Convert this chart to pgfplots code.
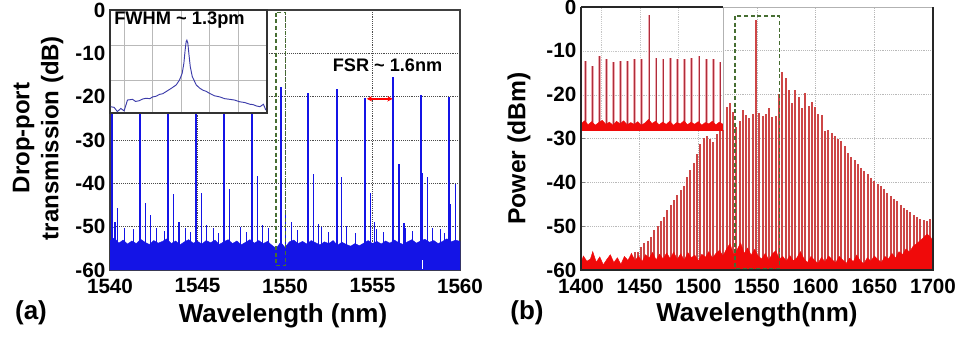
\documentclass[border=0pt]{standalone}
\usepackage{pgfplots}
\pgfplotsset{compat=1.18}
\usepackage{pgfplotstable}
\usepackage{fontspec}
\setmainfont{Liberation Sans}
\usetikzlibrary{arrows.meta}

\definecolor{bl}{RGB}{20,20,230}
\definecolor{insbl}{RGB}{60,60,170}
\definecolor{rd}{RGB}{240,10,10}
\definecolor{comb}{RGB}{205,70,70}
\definecolor{pinkc}{RGB}{238,170,175}
\definecolor{corec}{RGB}{175,45,60}
\definecolor{gbox}{RGB}{70,110,50}

% ---------- left panel data ----------
\pgfplotstableread{
x y
1540.12 -18
1541.70 -18
1543.33 -18
1544.92 -18
1546.52 -18
1548.13 -18
1549.75 -17.7
1551.33 -19.1
1552.95 -18.3
1554.57 -20.2
1556.15 -15.5
1557.77 -19.6
1559.39 -20.0
}\LPeaks

\pgfplotstableread{
x y
1540.29 -49.0
1540.42 -45.6
1542.04 -44.5
1542.32 -47.2
1543.62 -42.5
1543.94 -49.0
1545.24 -42.2
1545.52 -49.5
1546.82 -41.4
1548.42 -38.2
1548.70 -49.5
1550.04 -47.0
1550.38 -49.0
1551.62 -37.8
1551.90 -49.4
1553.24 -38.5
1553.52 -49.8
1554.90 -42.2
1555.12 -49.0
1556.51 -35.5
1556.80 -49.2
1557.87 -37.7
1558.15 -38.5
1559.47 -44.7
1559.73 -40.2
}\LSec

\pgfplotstableread{
x y
1540.80 -50.2
1541.33 -50.5
1542.67 -50.3
1543.10 -51.0
1544.29 -50.2
1544.60 -51.2
1545.90 -50.4
1546.20 -51.5
1547.43 -50.1
1547.80 -51.3
1549.05 -50.3
1550.70 -50.8
1552.10 -50.1
1552.50 -51.2
1553.52 -50.4
1554.00 -51.5
1555.24 -50.5
1555.60 -51.3
1556.86 -50.2
1557.30 -51.0
1558.43 -50.4
1558.86 -50.6
1559.10 -51.4
}\LSmall

\pgfplotstableread{
x y
1540.00 -60
1540.00 -53.2
1540.25 -52.6
1540.50 -53.8
1540.75 -53.1
1541.00 -54.0
1541.25 -53.3
1541.50 -53.9
1541.75 -52.9
1542.00 -53.6
1542.25 -54.1
1542.50 -53.2
1542.75 -53.8
1543.00 -53.4
1543.25 -52.8
1543.50 -53.9
1543.75 -53.3
1544.00 -54.2
1544.25 -53.5
1544.50 -53.0
1544.75 -53.8
1545.00 -53.4
1545.25 -54.0
1545.50 -53.2
1545.75 -53.7
1546.00 -53.1
1546.25 -54.1
1546.50 -53.5
1546.75 -53.0
1547.00 -53.9
1547.25 -53.3
1547.50 -54.2
1547.75 -53.6
1548.00 -53.0
1548.25 -53.8
1548.50 -53.2
1548.75 -53.9
1549.00 -53.4
1549.25 -54.3
1549.50 -55.0
1549.75 -53.6
1550.00 -54.8
1550.25 -53.5
1550.50 -53.1
1550.75 -53.9
1551.00 -53.4
1551.25 -54.0
1551.50 -53.2
1551.75 -53.7
1552.00 -54.2
1552.25 -53.5
1552.50 -53.9
1552.75 -53.2
1553.00 -54.3
1553.25 -53.6
1553.50 -54.1
1553.75 -54.5
1554.00 -53.9
1554.25 -54.4
1554.50 -53.8
1554.75 -53.2
1555.00 -53.9
1555.25 -53.4
1555.50 -54.0
1555.75 -53.3
1556.00 -53.8
1556.25 -53.1
1556.50 -53.7
1556.75 -54.1
1557.00 -53.5
1557.25 -53.0
1557.50 -53.8
1557.75 -53.3
1558.00 -52.9
1558.25 -53.6
1558.50 -53.2
1558.75 -53.9
1559.00 -53.4
1559.25 -52.8
1559.50 -53.5
1559.75 -53.1
1560.00 -53.4
1560.00 -60
}\LFloor

\pgfplotstableread{
x y
-4.95 -27.6
-4.71 -27.8
-4.48 -29.0
-4.24 -28.1
-4.01 -28.8
-3.77 -25.7
-3.42 -25.5
-3.20 -26.1
-2.95 -25.9
-2.70 -25.4
-2.47 -25.2
-2.20 -25.3
-2.00 -24.8
-1.75 -24.6
-1.53 -24.1
-1.30 -23.9
-1.06 -23.3
-0.71 -22.4
-0.35 -21.4
-0.12 -20.0
0.07 -18.1
0.19 -15.2
0.28 -11.4
0.35 -9.0
0.40 -8.6
0.47 -9.5
0.54 -12.4
0.64 -16.2
0.78 -19.0
1.06 -21.4
1.30 -22.3
1.53 -22.9
1.75 -23.2
2.00 -23.8
2.35 -24.5
2.71 -24.8
3.05 -25.3
3.41 -25.5
3.75 -25.7
4.12 -26.2
4.45 -26.4
4.83 -26.9
5.05 -27.0
5.30 -27.4
5.54 -27.6
5.78 -26.9
5.95 -28.6
}\LInset

% ---------- right panel data ----------
\pgfplotstableread{
x y
1442.8 -56.8
1445.6 -55.8
1448.4 -55.9
1451.2 -54.8
1454.0 -53.9
1456.8 -53.4
1459.6 -52.5
1462.4 -50.8
1465.2 -49.9
1468.0 -48.9
1470.8 -47.8
1473.6 -46.3
1476.4 -45.2
1479.2 -44.1
1482.0 -43.0
1484.8 -41.7
1487.6 -40.8
1490.4 -38.7
1493.2 -37.2
1496.0 -35.6
1498.8 -33.5
1501.6 -31.3
1504.4 -29.8
1507.2 -29.4
1510.0 -30.1
1512.8 -30.9
1515.6 -29.0
1518.4 -27.2
1521.2 -25.6
1524.0 -22.7
1526.8 -21.8
1529.6 -23.9
1532.4 -27.3
1535.2 -26.0
1538.0 -23.5
1540.8 -24.6
1543.6 -25.4
1546.4 -24.3
1549.2 -3.0
1552.0 -24.1
1554.8 -24.9
1557.6 -24.5
1560.4 -23.1
1563.2 -25.1
1566.0 -24.8
1568.8 -19.8
1571.6 -14.8
1574.4 -16.2
1577.2 -19.0
1580.0 -22.0
1582.8 -18.9
1585.6 -20.5
1588.4 -23.1
1591.2 -19.7
1594.0 -22.5
1596.8 -21.6
1599.6 -22.7
1602.4 -24.3
1605.2 -24.6
1608.0 -28.4
1610.8 -28.1
1613.6 -28.8
1616.4 -29.5
1619.2 -30.0
1622.0 -30.6
1624.8 -31.6
1627.6 -33.2
1630.4 -34.2
1633.2 -35.0
1636.0 -35.9
1638.8 -36.7
1641.6 -37.3
1644.4 -38.2
1647.2 -39.0
1650.0 -39.8
1652.8 -40.4
1655.6 -40.9
1658.4 -41.6
1661.2 -42.5
1664.0 -43.1
1666.8 -43.7
1669.6 -44.3
1672.4 -45.2
1675.2 -45.9
1678.0 -46.3
1680.8 -46.8
1683.6 -47.4
1686.4 -47.9
1689.2 -48.3
1692.0 -48.6
1694.8 -48.9
1697.6 -48.4
}\RComb

\pgfplotstableread{
x y
1400 -60
1400 -58.5
1402 -56.8
1405 -58.0
1408 -57.5
1410 -55.8
1413 -58.2
1416 -57.0
1419 -58.8
1422 -57.6
1425 -56.5
1428 -58.3
1431 -57.2
1434 -58.7
1437 -56.9
1440 -57.8
1443 -56.2
1446 -57.9
1449 -56.8
1452 -58.1
1455 -56.5
1458 -57.3
1461 -56.0
1464 -57.7
1467 -56.4
1470 -57.5
1473 -56.1
1476 -57.4
1479 -55.9
1482 -57.6
1485 -56.3
1488 -57.8
1491 -56.0
1494 -57.2
1497 -56.6
1500 -57.9
1503 -56.4
1506 -57.1
1509 -55.8
1512 -57.3
1515 -56.2
1518 -55.5
1521 -56.8
1524 -55.2
1527 -54.0
1530 -56.5
1533 -55.4
1536 -53.8
1539 -56.2
1542 -55.0
1545 -56.6
1548 -55.3
1551 -56.8
1554 -57.5
1557 -56.2
1560 -57.7
1563 -56.4
1566 -55.6
1569 -57.5
1572 -56.9
1575 -58.0
1578 -56.7
1581 -57.9
1584 -57.2
1587 -55.8
1590 -57.4
1593 -58.3
1596 -56.9
1599 -57.8
1602 -58.5
1605 -57.1
1608 -58.2
1611 -56.8
1614 -57.6
1617 -58.4
1620 -56.9
1623 -57.7
1626 -58.5
1629 -57.3
1632 -58.1
1635 -56.6
1638 -57.9
1641 -58.6
1644 -57.2
1647 -58.0
1650 -56.8
1653 -57.6
1656 -58.3
1659 -56.9
1662 -57.5
1665 -56.2
1668 -57.3
1671 -55.8
1674 -56.5
1677 -55.2
1680 -55.9
1683 -54.6
1686 -54.0
1689 -53.3
1692 -52.6
1695 -51.8
1698 -52.5
1700 -53.5
1700 -60
}\RFloor

\pgfplotstableread{
x y
1540.66 -12.3
1541.65 -13.5
1542.58 -11.2
1543.62 -11.9
1544.61 -12.5
1545.59 -12.2
1546.58 -12.2
1547.56 -11.8
1548.55 -11.9
1549.58 -1.8
1550.56 -11.6
1551.55 -11.8
1552.54 -11.5
1553.56 -11.9
1554.55 -11.9
1555.59 -11.6
1556.62 -11.1
1557.61 -11.9
1558.63 -11.9
1559.58 -12.5
}\RIns

\pgfplotstableread{
x y
1540.0 -28
1540.0 -26.6
1540.5 -25.9
1541.0 -26.8
1541.5 -26.1
1542.0 -26.9
1542.5 -26.3
1543.0 -25.8
1543.5 -26.7
1544.0 -26.2
1544.5 -26.9
1545.0 -26.0
1545.5 -26.6
1546.0 -25.9
1546.5 -26.8
1547.0 -26.3
1547.5 -26.7
1548.0 -26.1
1548.5 -26.9
1549.0 -26.4
1549.5 -25.6
1550.0 -26.5
1550.5 -26.0
1551.0 -26.8
1551.5 -26.2
1552.0 -26.7
1552.5 -26.0
1553.0 -26.9
1553.5 -26.3
1554.0 -26.6
1554.5 -25.9
1555.0 -26.8
1555.5 -26.2
1556.0 -26.7
1556.5 -26.1
1557.0 -26.9
1557.5 -26.3
1558.0 -26.6
1558.5 -26.0
1559.0 -26.8
1559.5 -26.2
1560.0 -26.7
1560.0 -28
}\RInsN

\pgfplotsset{
  panel/.style={
    scale only axis, anchor=south west,
    axis background/.style={fill=white},
    tick label style={font=\fontsize{15.5}{16}\selectfont\bfseries},
    /pgf/number format/assume math mode=true,
    /pgf/number format/1000 sep={},
    grid=major,
    tick pos=left, tick align=inside, major tick length=3pt,
    ymin=-60, ymax=0, ytick={-60,-50,...,0},
  },
  inset/.style={
    scale only axis, anchor=south west,
    axis background/.style={fill=white},
    grid=major, major tick length=0pt,
    xticklabels={}, yticklabels={},
  }
}

\begin{document}
\begin{tikzpicture}
\path[use as bounding box] (0pt,0pt) rectangle (720pt,-254.25pt);

% ================= LEFT MAIN =================
\begin{axis}[panel, name=L,
  at={(82.5pt,-202.5pt)}, width=262.5pt, height=195pt,
  xmin=1540, xmax=1560, xtick={1540,1545,...,1560},
  major grid style={densely dotted, gray!60!black, line width=0.6pt},
  axis line style={gray!50!black, line width=0.8pt},
  xticklabel style={yshift=-3pt},
]
\addplot[bl, fill=bl, draw=bl, line width=0.3pt] table[x=x,y=y] \LFloor;
\addplot[bl, line width=0.6pt, quiver={u=0, v=\thisrow{y}+60}] table[x=x, y expr=-60] \LSmall;
\addplot[bl, line width=1.1pt, quiver={u=0, v=\thisrow{y}+60}] table[x=x, y expr=-60] \LSec;
\addplot[bl, line width=1.6pt, quiver={u=0, v=\thisrow{y}+60}] table[x=x, y expr=-60] \LPeaks;
\addplot[white, line width=0.8pt] coordinates {(1557.87,-57.7) (1557.87,-59.8)};
\draw[gbox, dashed, dash pattern=on 3pt off 2pt, line width=0.9pt]
  (axis cs:1549.49,-0.6) rectangle (axis cs:1550.04,-59);
\draw[red, line width=1.2pt, {Stealth[length=4pt,width=4pt]}-{Stealth[length=4pt,width=4pt]}]
  (axis cs:1554.67,-20.5) -- (axis cs:1556.15,-20.5);
\node[font=\fontsize{13.6}{14}\selectfont\bfseries] at (axis cs:1555.86,-12.7) {FSR \textasciitilde{} 1.6nm};
\end{axis}

% ================= LEFT INSET =================
\begin{axis}[inset, name=LI,
  at={(82.5pt,-84.75pt)}, width=117.75pt, height=77.25pt,
  xmin=-5, xmax=6.03, ymin=-29.4, ymax=0,
  xtick={-4,-2,0,2,4}, ytick={-10,-20},
  major grid style={gray!55, line width=0.5pt},
  axis line style={gray!40!black, line width=0.8pt},
]
\addplot[insbl, line width=0.7pt] table[x=x,y=y] \LInset;
\node[font=\fontsize{13.7}{14}\selectfont\bfseries] at (axis cs:-0.12,-2.9) {FWHM \textasciitilde{} 1.3pm};
\end{axis}

% ================= RIGHT MAIN =================
\begin{axis}[panel, name=R,
  at={(435.75pt,-202.5pt)}, width=264pt, height=197.25pt,
  xmin=1400, xmax=1700, xtick={1400,1450,...,1700},
  major grid style={densely dotted, gray!55, line width=0.6pt},
  axis line style={draw=none},
  xticklabel style={yshift=-3pt},
]
\addplot[comb, line width=1.5pt, quiver={u=0, v=\thisrow{y}+60}] table[x=x, y expr=-60] \RComb;
\addplot[rd, fill=rd, draw=rd, line width=0.3pt] table[x=x,y=y] \RFloor;
\draw[gbox, dashed, dash pattern=on 3pt off 2pt, line width=1pt]
  (axis cs:1531.2,-2.05) rectangle (axis cs:1569,-59.6);
\end{axis}
\draw[gray!60, line width=0.6pt] (R.north west) -- (R.north east);
\draw[black!85, line width=1pt] (R.north west) -- (R.south west) -- (R.south east) -- (R.north east);

% ================= RIGHT INSET =================
\begin{axis}[inset, name=RI,
  at={(435.75pt,-97.5pt)}, width=106.5pt, height=92.25pt,
  xmin=1540, xmax=1560, ymin=-28, ymax=0,
  xtick={1542.8,1548.3,1553.7}, ytick={-10,-20},
  major grid style={densely dotted, gray!45, line width=0.5pt},
  axis line style={draw=none}, clip=false,
]
\addplot[pinkc, line width=2.2pt, quiver={u=0, v=\thisrow{y}+28}] table[x=x, y expr=-28] \RIns;
\addplot[corec, line width=0.7pt, quiver={u=0, v=\thisrow{y}+28}] table[x=x, y expr=-28] \RIns;
\addplot[rd, fill=rd, draw=rd, line width=0.3pt] table[x=x,y=y] \RInsN;
\end{axis}
\draw[gray!30!black, line width=1.5pt] (RI.north west) -- (RI.north east);
\draw[gray!60, line width=0.6pt] (RI.north east) -- (RI.south east);
\draw[rd, line width=1.2pt] (RI.south west) -- (RI.south east);
\draw[black!85, line width=1pt] (R.north west) -- (R.south west);

% ================= LABELS =================
\node[font=\fontsize{19.5}{20}\selectfont\bfseries] at (23.25pt,-234.75pt) {(a)};
\node[font=\fontsize{19.5}{20}\selectfont\bfseries] at (212.25pt,-237pt) {Wavelength (nm)};
\node[font=\fontsize{19.5}{20}\selectfont\bfseries] at (395.25pt,-234.75pt) {(b)};
\node[font=\fontsize{19.5}{20}\selectfont\bfseries] at (567.75pt,-236.25pt) {Wavelength(nm)};
\node[font=\fontsize{18}{21.75}\selectfont\bfseries, rotate=90, align=center] at (28.5pt,-103.5pt) {Drop-port\\transmission (dB)};
\node[font=\fontsize{18.5}{20}\selectfont\bfseries, rotate=90] at (389.25pt,-111.4pt) {Power (dBm)};
\end{tikzpicture}
\end{document}
